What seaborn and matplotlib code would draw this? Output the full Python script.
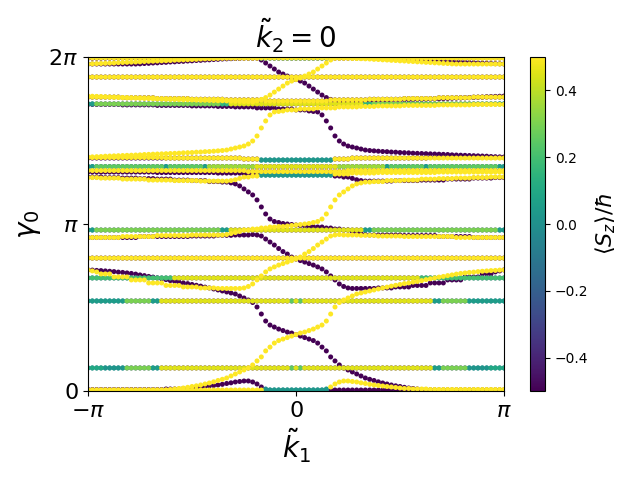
import numpy as np
import pandas as pd
import matplotlib
matplotlib.use("Agg")
import matplotlib.pyplot as plt
import seaborn as sns
from matplotlib.cm import ScalarMappable
from matplotlib.colors import Normalize

# ---------------- data (gamma in units of pi, spin-down branches) ----------------
# k grid: 97 samples from -pi to pi
n_k = 97
k_grid = np.linspace(-np.pi, np.pi, n_k)

gamma_top = [1.994]*97
sz_top = [-0.5]*40 + [-0.03]*17 + [-0.5]*40

gamma_P0 = [1.994]*65 + [1.993, 1.992, 1.991, 1.990, 1.989, 1.988, 1.986, 1.985, 1.984, 1.983, 1.982,
                         1.981, 1.979, 1.978, 1.977, 1.976, 1.975, 1.974, 1.973, 1.971, 1.970, 1.969,
                         1.968, 1.967, 1.966, 1.964, 1.963, 1.962, 1.961, 1.960, 1.959, 1.958]
sz_P0 = [-0.5]*97

gamma_P1 = ([1.958]*12 +
            [1.959, 1.961, 1.962, 1.964, 1.965, 1.967, 1.968, 1.970, 1.971, 1.973, 1.974, 1.976,
             1.977, 1.979, 1.980, 1.982, 1.983, 1.985, 1.986, 1.988, 1.989, 1.990, 1.991, 1.992] +
            [1.994]*4 +
            [1.982, 1.964, 1.946, 1.928, 1.910, 1.898, 1.886, 1.874, 1.865, 1.856, 1.844, 1.826,
             1.808, 1.790, 1.772, 1.757, 1.746, 1.737, 1.731] +
            [1.732, 1.733, 1.734, 1.735, 1.736, 1.737] +
            [1.738, 1.738, 1.739, 1.740, 1.741, 1.741, 1.742, 1.743] +
            [1.744, 1.744, 1.745, 1.746, 1.746, 1.747, 1.748, 1.749] +
            [1.750, 1.751, 1.752, 1.753, 1.754, 1.755, 1.756, 1.757] +
            [1.758, 1.759, 1.760, 1.762, 1.763, 1.764, 1.765, 1.766])
sz_P1 = [-0.5]*97

gamma_G0 = [1.880]*97
sz_G0 = [-0.5]*97

gamma_G0b = ([1.760]*8 + [1.756]*8 + [1.751]*8 + [1.747]*8 + [1.743]*9 + [1.736]*15 +
             [1.743]*9 + [1.747]*8 + [1.751]*8 + [1.756]*8 + [1.760]*8)
sz_G0b = [-0.5]*97

gamma_G1 = [1.719]*97
sz_G1 = [-0.05]*2 + [-0.3]*29 + [-0.15]*2 + [-0.45]*31 + [-0.15]*2 + [-0.3]*29 + [-0.05]*2

gamma_Pc = ([1.716]*8 + [1.713]*8 + [1.710]*8 + [1.707]*6 + [1.704]*4 + [1.701]*5 + [1.695]*5 +
            [1.689]*4 + [1.683]*3 +
            [1.677, 1.674, 1.671, 1.653, 1.617, 1.575, 1.527, 1.497, 1.479, 1.467, 1.461, 1.455,
             1.449, 1.443] +
            [1.440, 1.438, 1.436, 1.434, 1.433, 1.431, 1.430, 1.428] +
            [1.427, 1.426, 1.424, 1.423, 1.422, 1.421, 1.420, 1.419] +
            [1.418, 1.417, 1.416, 1.414, 1.413, 1.412, 1.411, 1.410] +
            [1.409, 1.408, 1.407, 1.406, 1.404, 1.403, 1.402, 1.401])
sz_Pc = [-0.5]*97

gamma_C1 = [1.395]*36 + [1.389]*4 + [1.383]*17 + [1.389]*4 + [1.395]*18 + [1.398]*18
sz_C1 = [-0.5]*40 + [-0.03]*17 + [-0.5]*40

gamma_C2 = [1.344]*97
sz_C2 = ([-0.05]*2 + [-0.25]*16 + [-0.05] + [-0.25]*8 + [-0.05] + [-0.35]*11 + [-0.45]*19 +
         [-0.35]*11 + [-0.05] + [-0.25]*8 + [-0.05] + [-0.25]*16 + [-0.05]*2)

gamma_C3 = [1.320]*37 + [1.314]*23 + [1.320]*37
sz_C3 = [-0.5]*97

gamma_C4 = ([1.311]*16 + [1.308]*14 + [1.305]*6 + [1.299]*4 + [1.293]*17 + [1.287]*2 + [1.281]*2 +
            [1.273, 1.265, 1.260] + [1.257]*7 + [1.260]*6 + [1.263]*6 + [1.269]*6 + [1.275]*5 +
            [1.278]*3)
sz_C4 = [-0.5]*40 + [-0.03]*17 + [-0.5]*40

gamma_Pd = ([1.281]*4 + [1.278]*4 + [1.275]*4 + [1.272]*4 + [1.269]*4 + [1.263]*4 + [1.260]*4 +
            [1.254]*3 + [1.251]*2 +
            [1.246, 1.240, 1.228, 1.210, 1.192, 1.174, 1.144, 1.102, 1.060, 1.030, 1.015, 1.009,
             1.003, 1.000, 0.997, 0.994, 0.991, 0.988, 0.985, 0.985, 0.982, 0.982, 0.976, 0.976,
             0.970, 0.970, 0.964, 0.964] +
            [0.955, 0.949, 0.943, 0.937] +
            [0.934]*8 + [0.931]*8 + [0.925]*8 + [0.919]*8)
sz_Pd = [-0.5]*97

gamma_G2 = [0.964]*97
sz_G2 = [-0.05]*2 + [-0.3]*29 + [-0.05]*2 + [-0.45]*31 + [-0.05]*2 + [-0.3]*29 + [-0.05]*2

gamma_Pb = ([0.919]*12 + [0.925]*12 + [0.928]*6 + [0.932]*4 + [0.934]*4 +
            [0.937, 0.934, 0.928, 0.910, 0.892, 0.874, 0.853, 0.835, 0.820, 0.802, 0.790, 0.781,
             0.772, 0.763, 0.754, 0.743, 0.731, 0.713, 0.689, 0.665, 0.641, 0.626, 0.617] +
            [0.614]*6 + [0.617]*4 + [0.623]*4 + [0.632]*4 + [0.647]*4 + [0.665]*4 + [0.683]*4 +
            [0.701]*3 + [0.713, 0.719, 0.725])
sz_Pb = [-0.5]*97

gamma_G4 = [0.796]*97
sz_G4 = [-0.5]*97

gamma_G3 = [0.677]*97
sz_G3 = [-0.2]*20 + [-0.45]*57 + [-0.2]*20

gamma_G5 = [0.539]*97
sz_G5 = ([-0.05]*9 + [-0.3]*6 + [-0.05]*2 + [-0.45]*30 + [-0.25] + [-0.45] + [-0.25] +
         [-0.45]*30 + [-0.05]*2 + [-0.3]*6 + [-0.05]*9)

gamma_G6 = [0.138]*97
sz_G6 = ([-0.1]*4 + [-0.02]*5 + [-0.3]*6 + [-0.05]*2 + [-0.45]*30 + [-0.25] + [-0.45] + [-0.25] +
         [-0.45]*30 + [-0.05]*2 + [-0.3]*6 + [-0.02]*5 + [-0.1]*4)

gamma_Pa = ([0.725, 0.724, 0.722, 0.721, 0.719, 0.717, 0.715, 0.712, 0.710, 0.707, 0.704, 0.700,
             0.695, 0.691, 0.686, 0.682, 0.677, 0.672, 0.667, 0.661, 0.656, 0.652, 0.647, 0.643,
             0.638, 0.633, 0.628, 0.622, 0.617, 0.611, 0.605, 0.599, 0.593, 0.587, 0.581, 0.569] +
            [0.557, 0.545, 0.530, 0.503, 0.461, 0.419, 0.395, 0.383, 0.371, 0.362, 0.353, 0.347,
             0.338, 0.329, 0.320, 0.311, 0.302, 0.287, 0.263, 0.240, 0.204, 0.180, 0.156, 0.138,
             0.126, 0.114, 0.102, 0.090, 0.078, 0.070, 0.063, 0.055, 0.048, 0.042, 0.036, 0.031,
             0.027, 0.022, 0.018, 0.015, 0.012, 0.009] +
            [0.006]*19)
sz_Pa = [-0.5]*97

gamma_Pbump = ([0.009]*18 + [0.012]*4 + [0.015]*2 +
               [0.018, 0.021, 0.024, 0.027, 0.030, 0.033, 0.036, 0.040, 0.045, 0.049, 0.054, 0.057,
                0.060, 0.060, 0.054, 0.042, 0.024, 0.012] +
               [0.006]*55)
sz_Pbump = [-0.5]*41 + [-0.03]*15 + [-0.5]*41

branches = [
    (gamma_top, sz_top), (gamma_P0, sz_P0), (gamma_P1, sz_P1), (gamma_G0, sz_G0),
    (gamma_G0b, sz_G0b), (gamma_G1, sz_G1), (gamma_Pc, sz_Pc), (gamma_C1, sz_C1),
    (gamma_C2, sz_C2), (gamma_C3, sz_C3), (gamma_C4, sz_C4), (gamma_Pd, sz_Pd),
    (gamma_G2, sz_G2), (gamma_Pb, sz_Pb), (gamma_G4, sz_G4), (gamma_G3, sz_G3),
    (gamma_G5, sz_G5), (gamma_G6, sz_G6), (gamma_Pa, sz_Pa), (gamma_Pbump, sz_Pbump),
]

rows_k, rows_g, rows_s = [], [], []
for g, s in branches:
    g = np.asarray(g) * np.pi
    s = np.asarray(s)
    # spin-down branch
    rows_k.append(k_grid); rows_g.append(g); rows_s.append(s)
    # time-reversed partner: k -> -k, Sz -> -Sz
    rows_k.append(k_grid); rows_g.append(g[::-1]); rows_s.append(-s[::-1])

df = pd.DataFrame({"k": np.concatenate(rows_k),
                   "gamma": np.concatenate(rows_g),
                   "Sz": np.concatenate(rows_s)})
df = df.sort_values("Sz", kind="mergesort").reset_index(drop=True)

# ---------------- plot ----------------
fig = plt.figure(figsize=(6.4, 4.8), dpi=100)
ax = fig.add_axes([88/640, 89/480, 416/640, 334/480])
cax = fig.add_axes([530/640, 89/480, 15/640, 334/480])

sns.scatterplot(data=df, x="k", y="gamma", hue="Sz", palette="viridis",
                hue_norm=(-0.5, 0.5), s=13, linewidth=0, edgecolor="none",
                legend=False, ax=ax, clip_on=True)

ax.set_xlim(-np.pi, np.pi)
ax.set_ylim(0, 2*np.pi)
ax.set_xticks([-np.pi, 0, np.pi])
ax.set_xticklabels([r"$-\pi$", r"$0$", r"$\pi$"], fontsize=16)
ax.set_yticks([0, np.pi, 2*np.pi])
ax.set_yticklabels([r"$0$", r"$\pi$", r"$2\pi$"], fontsize=16)
ax.set_xlabel(r"$\tilde{k}_1$", fontsize=20)
ax.set_ylabel(r"$\gamma_0$", fontsize=20)
ax.set_title(r"$\tilde{k}_2 = 0$", fontsize=20)

sm = ScalarMappable(norm=Normalize(-0.5, 0.5), cmap="viridis")
sm.set_array([])
cb = fig.colorbar(sm, cax=cax)
cb.set_label(r"$\langle S_z\rangle/\hbar$", fontsize=16)
cb.ax.tick_params(labelsize=10)

fig.savefig("out.png", dpi=100)
